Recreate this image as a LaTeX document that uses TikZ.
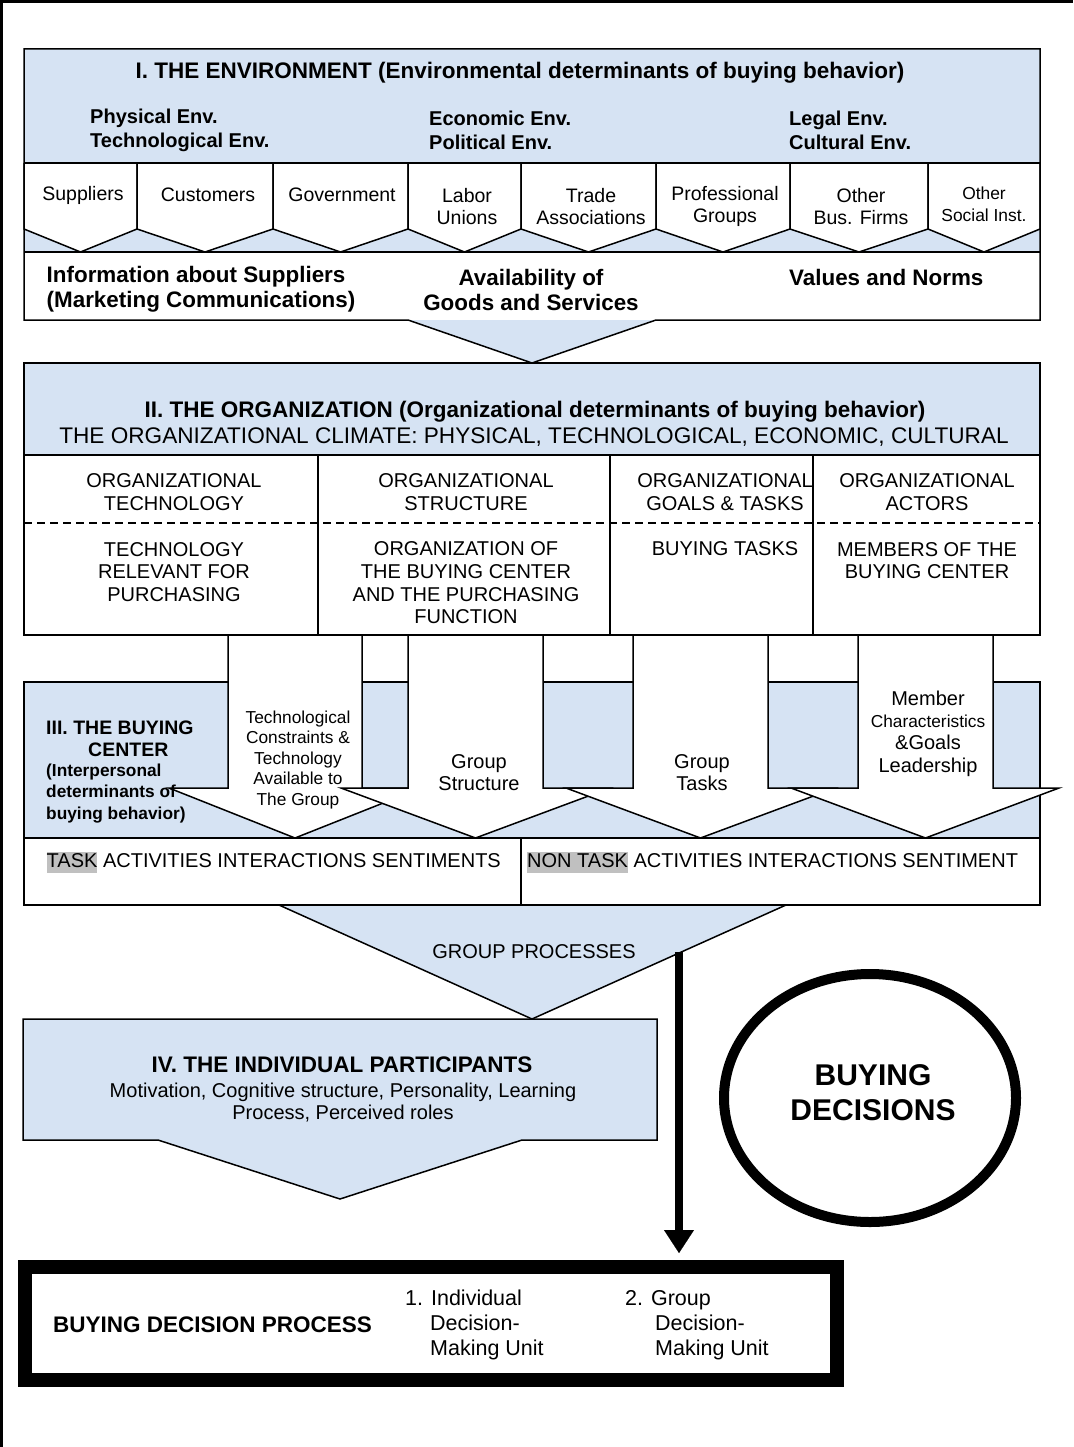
\documentclass[tikz,border=0pt]{standalone}
\usepackage{fontspec}
\setmainfont{Liberation Sans}
\usetikzlibrary{arrows.meta,shapes.geometric}

\definecolor{paleblue}{RGB}{214,227,243}
\definecolor{hlgray}{RGB}{192,192,192}
\newcommand{\setfs}[2]{\fontsize{#1}{#2}\selectfont}
\newcommand{\hlt}[1]{{\setlength{\fboxsep}{0pt}\colorbox{hlgray}{\rule[-0.24em]{0pt}{1.05em}#1}}}

\tikzset{
  outline/.style={draw=black, line width=1.5pt},
  tx/.style={inner sep=0pt, align=center, font=\setfs{20}{22.7}},
  txs/.style={inner sep=0pt, align=center, font=\setfs{17.3}{20.5}},
  hd/.style={inner sep=0pt, align=center, font=\bfseries\setfs{22.5}{24}},
  hdm/.style={inner sep=0pt, align=left, font=\bfseries\setfs{20}{24}},
  hdi/.style={inner sep=0pt, align=left, font=\bfseries\setfs{22.4}{25}},
}

\begin{document}
\begin{tikzpicture}[x=1pt,y=-1pt]
\useasboundingbox (0,0) rectangle (1073,1447);
\fill[white] (0,0) rectangle (1073,1447);

% page frame (top and left edges)
\draw[line width=3.4pt] (1.7,1447) -- (1.7,1.7) -- (1073,1.7);

% ---------- I. Environment ----------
\fill[paleblue] (24,49) -- (1040,49) -- (1040,320) -- (656,320) -- (532,363) -- (408,320) -- (24,320) -- cycle;
\fill[white] (24,252) rectangle (1040,320);
\foreach \l/\r in {24/137,137/273,273/408,408/521,521/656,656/790,790/928,928/1040}{
  \draw[outline, fill=white] (\l,163) -- (\l,229) -- ({(\l+\r)/2},252) -- (\r,229) -- (\r,163);
}
\draw[outline] (24,163) -- (1040,163);
\draw[outline] (24,252) -- (1040,252);
\draw[outline] (24,49) -- (1040,49) -- (1040,320) -- (656,320) -- (532,363) -- (408,320) -- (24,320) -- cycle;

\node[hd] (envtitle) at (520,73) {I. THE ENVIRONMENT (Environmental determinants of buying behavior)};
\node[hdm, anchor=west] (envphys) at (90,130) {Physical Env.\\Technological Env.};
\node[hdm, anchor=west] (envecon) at (429,130) {Economic Env.\\Political Env.};
\node[hdm, anchor=west] (envlegal) at (789,130) {Legal Env.\\Cultural Env.};

\node[tx, font=\setfs{19.5}{22.7}] (sup) at (83,195) {Suppliers};
\node[tx, font=\setfs{19.5}{22.7}] (cus) at (208,195) {Customers};
\node[tx, font=\setfs{19.5}{22.7}] (gov) at (342,195) {Government};
\node[tx, font=\setfs{19.5}{22.7}] (lab) at (467,206.5) {Labor\\Unions};
\node[tx, font=\setfs{19.5}{22.7}] (tra) at (591,206.5) {Trade\\Associations};
\node[tx, font=\setfs{19.5}{22.7}] (pro) at (725,206.5) {Professional\\Groups};
\node[tx, font=\setfs{19.5}{22.7}] (obf) at (861,206.5) {Other\\Bus. Firms};
\node[txs, font=\setfs{17.4}{22}] (osi) at (984,204) {Other\\Social Inst.};

\node[hdi, anchor=west] (info) at (46.5,289.5) {Information about Suppliers\\(Marketing Communications)};
\node[hdi, align=center] (avail) at (531,289.5) {Availability of\\Goods and Services};
\node[hdi, anchor=west] (values) at (789,277) {Values and Norms};

% ---------- II. Organization ----------
\fill[paleblue] (24,363) rectangle (1040,455);
\draw[outline] (24,363) rectangle (1040,635);
\draw[outline] (24,455) -- (1040,455);
\foreach \x in {318,610,813}{ \draw[outline] (\x,455) -- (\x,635); }
\draw[outline, dash pattern=on 8pt off 5pt] (24,523) -- (1040,523);

\node[hd] (orgtitle) at (535,412) {II. THE ORGANIZATION (Organizational determinants of buying behavior)};
\node[tx, font=\setfs{22.6}{24}] (orgclimate) at (534,437.5) {THE ORGANIZATIONAL CLIMATE: PHYSICAL, TECHNOLOGICAL, ECONOMIC, CULTURAL};

\node[tx] (c1a) at (174,492) {ORGANIZATIONAL\\TECHNOLOGY};
\node[tx] (c1b) at (174,572) {TECHNOLOGY\\RELEVANT FOR\\PURCHASING};
\node[tx] (c2a) at (466,492) {ORGANIZATIONAL\\STRUCTURE};
\node[tx] (c2b) at (466,583) {ORGANIZATION OF\\THE BUYING CENTER\\AND THE PURCHASING\\FUNCTION};
\node[tx] (c3a) at (725,492) {ORGANIZATIONAL\\GOALS \& TASKS};
\node[tx] (c3b) at (725,549) {BUYING TASKS};
\node[tx] (c4a) at (927,492) {ORGANIZATIONAL\\ACTORS};
\node[tx] (c4b) at (927,560.5) {MEMBERS OF THE\\BUYING CENTER};

% ---------- III. Buying center ----------
\draw[outline, fill=paleblue] (24,682) rectangle (1040,838);
\node[inner sep=0pt, anchor=west, font=\bfseries\setfs{19.5}{22}] (bctitle) at (46,728) {III. THE BUYING};
\node[inner sep=0pt, anchor=west, font=\bfseries\setfs{19.5}{22}] (bctitleb) at (88,750) {CENTER};
\node[inner sep=0pt, anchor=west, align=left, font=\bfseries\setfs{17.3}{21.5}] (bcsub) at (46,793.5) {(Interpersonal\\determinants of\\buying behavior)};

% block arrows from the organization down to the group
\foreach \sl/\sr/\hl/\hr/\tx in {228/362/169/421/295, 408/543/341/610/475.5, 633/768/566/835/700.5, 858/993/791/1059/925.5}{
  \draw[outline, fill=white] (\sl,635) -- (\sl,788) -- (\hl,788) -- (\tx,838) -- (\hr,788) -- (\sr,788) -- (\sr,635);
}
\draw[outline] (24,635) -- (1040,635);

\node[txs] (a1) at (298,760) {Technological\\Constraints \&\\Technology\\Available to\\The Group};
\node[tx, font=\setfs{20}{22}] (a2) at (479,773) {Group\\Structure};
\node[tx, font=\setfs{20}{22}] (a3) at (702,773) {Group\\Tasks};
\node[tx, font=\setfs{20}{22.3}] (a4) at (928,733.5) {Member\\{\setfs{17.3}{22.3}Characteristics}\\\&Goals\\Leadership};

% group processes funnel
\fill[paleblue] (279,905) -- (532,1019) -- (786,905) -- cycle;
\draw[outline] (279,905) -- (532,1019) -- (786,905);

\draw[outline, fill=white] (24,838) rectangle (1040,905);
\draw[outline] (521,838) -- (521,905);
\node[tx, anchor=west] (task) at (46.5,862) {\hlt{TASK} ACTIVITIES INTERACTIONS SENTIMENTS};
\node[tx, anchor=west] (nontask) at (527,862) {\hlt{NON TASK} ACTIVITIES INTERACTIONS SENTIMENT};

\node[tx] (gp) at (534,952) {GROUP PROCESSES};

% ---------- IV. Individual participants ----------
\draw[outline, fill=paleblue] (23,1019) -- (657,1019) -- (657,1140) -- (522,1140) -- (340,1199) -- (158,1140) -- (23,1140) -- cycle;
\node[hd] (indtitle) at (342,1065) {IV. THE INDIVIDUAL PARTICIPANTS};
\node[tx, font=\setfs{20}{22}] (indsub) at (343,1103) {Motivation, Cognitive structure, Personality, Learning\\Process, Perceived roles};

% ---------- Buying decisions ----------
\node[draw, ellipse, line width=10pt, minimum width=292pt, minimum height=248pt, inner sep=0pt] (bd) at (870,1098) {};
\node[inner sep=0pt, align=center, font=\bfseries\setfs{30}{35}] (bdlabel) at (873,1092.5) {BUYING\\DECISIONS};

\node[draw, line width=14pt, minimum width=812pt, minimum height=113pt, inner sep=0pt, fill=white] (bdp) at (430.5,1323.5) {};
\node[inner sep=0pt, anchor=west, font=\bfseries\setfs{22.5}{24}] (bdptitle) at (53,1325) {BUYING DECISION PROCESS};
\node[inner sep=0pt, anchor=west, align=left, font=\setfs{21.5}{25}] (unit1) at (405,1325) {1. Individual\\\hspace*{25pt}Decision-\\\hspace*{25pt}Making Unit};
\node[inner sep=0pt, anchor=west, align=left, font=\setfs{21.5}{25}] (unit2) at (625,1325) {2. Group\\\hspace*{30pt}Decision-\\\hspace*{30pt}Making Unit};

% thick connector from the group processes to the decision process
\coordinate (gpexit) at (679,952);
\coordinate (bdpin) at (bdp.north -| gpexit);
\draw[line width=8pt, shorten >=7pt, -{Triangle[length=23pt,width=30pt,line width=0.1pt]}] (gpexit) -- (bdpin);
\end{tikzpicture}
\end{document}
